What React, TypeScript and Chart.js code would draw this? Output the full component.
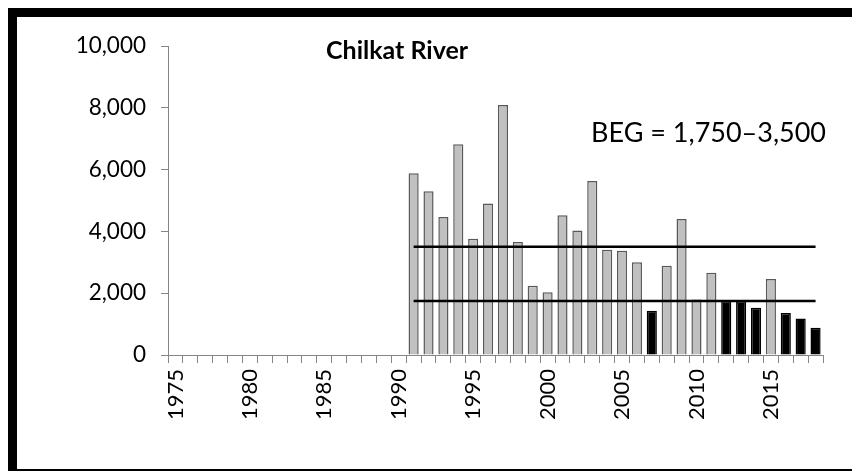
import React, { useEffect, useRef } from "react";
import { Chart, registerables } from "chart.js";

Chart.register(...registerables);

const years: string[] = [
  "1975", "1976", "1977", "1978", "1979", "1980", "1981", "1982", "1983", "1984",
  "1985", "1986", "1987", "1988", "1989", "1990", "1991", "1992", "1993", "1994",
  "1995", "1996", "1997", "1998", "1999", "2000", "2001", "2002", "2003", "2004",
  "2005", "2006", "2007", "2008", "2009", "2010", "2011", "2012", "2013", "2014",
  "2015", "2016", "2017", "2018",
];

const escapement: (number | null)[] = [
  null, null, null, null, null, null, null, null, null, null,
  null, null, null, null, null, null, 5880, 5300, 4470, 6820,
  3760, 4900, 8090, 3660, 2240, 2030, 4520, 4030, 5630, 3410,
  3370, 3000, 1430, 2890, 4400, 1800, 2660, 1750, 1750, 1530,
  2460, 1360, 1180, 880,
];

const belowGoalYears: string[] = ["2007", "2012", "2013", "2014", "2016", "2017", "2018"];

const goalStartYear = "1991";
const begLower = 1750;
const begUpper = 3500;

const yTicks: number[] = [0, 2000, 4000, 6000, 8000, 10000];

const titleText = "Chilkat River";
const begText = "BEG = 1,750\u20133,500";

const FONT = "Lato, 'Open Sans', sans-serif";

export default function App() {
  const ref = useRef<HTMLCanvasElement | null>(null);

  useEffect(() => {
    const canvas = ref.current;
    if (!canvas) return;
    const startIdx = years.indexOf(goalStartYear);
    const upperLine = years.map((_, i) => (i >= startIdx ? begUpper : null));
    const lowerLine = years.map((_, i) => (i >= startIdx ? begLower : null));
    const barColors = years.map((y) => (belowGoalYears.includes(y) ? "#000000" : "#c0c0c0"));
    const barBorders = years.map((y) => (belowGoalYears.includes(y) ? "#000000" : "#595959"));

    const textPlugin = {
      id: "texts",
      afterDraw(chart: any) {
        const { ctx, chartArea } = chart;
        ctx.save();
        ctx.fillStyle = "#000";
        ctx.textBaseline = "alphabetic";
        ctx.textAlign = "left";
        ctx.font = `bold 25px ${FONT}`;
        ctx.fillText(titleText, chartArea.left + 158, chartArea.top + 13);
        ctx.font = `27px ${FONT}`;
        ctx.fillText(begText, chartArea.left + 423, chartArea.top + 96);
        ctx.restore();
      },
    };

    const chart = new Chart(canvas, {
      type: "bar",
      data: {
        labels: years,
        datasets: [
          {
            type: "line",
            data: upperLine,
            borderColor: "#000",
            borderWidth: 2.5,
            pointRadius: 0,
            fill: false,
            spanGaps: false,
            order: 0,
          } as any,
          {
            type: "line",
            data: lowerLine,
            borderColor: "#000",
            borderWidth: 2.5,
            pointRadius: 0,
            fill: false,
            spanGaps: false,
            order: 0,
          } as any,
          {
            type: "bar",
            data: escapement,
            backgroundColor: barColors,
            borderColor: barBorders,
            borderWidth: 1.5,
            borderSkipped: "bottom",
            barPercentage: 0.68,
            categoryPercentage: 1,
            order: 1,
          } as any,
        ],
      },
      options: {
        responsive: false,
        animation: false,
        layout: { padding: { left: 0, right: 37, top: 29, bottom: 0 } },
        plugins: {
          legend: { display: false },
          tooltip: { enabled: false },
          title: { display: false },
        },
        scales: {
          x: {
            type: "category",
            offset: true,
            grid: {
              offset: true,
              drawOnChartArea: false,
              drawTicks: true,
              tickLength: 8,
              color: "#868686",
              lineWidth: 1,
            },
            border: { color: "#868686", width: 1 },
            ticks: {
              autoSkip: false,
              minRotation: 90,
              maxRotation: 90,
              padding: 6,
              color: "#000",
              font: { family: FONT, size: 22 },
              callback: (_v: any, i: number) => (Number(years[i]) % 5 === 0 ? years[i] : ""),
            },
            afterFit: (scale: any) => {
              scale.height = 114;
            },
          },
          y: {
            min: 0,
            max: 10000,
            afterBuildTicks: (scale: any) => {
              scale.ticks = yTicks.map((v) => ({ value: v }));
            },
            grid: {
              drawOnChartArea: false,
              drawTicks: true,
              tickLength: 7,
              color: "#868686",
            },
            border: { color: "#868686", width: 1 },
            ticks: {
              padding: 15,
              color: "#000",
              font: { family: FONT, size: 22.5 },
              callback: (v: any) => Number(v).toLocaleString("en-US"),
            },
            afterFit: (scale: any) => {
              scale.width = 151;
            },
          },
        },
      },
      plugins: [textPlugin],
    });
    return () => chart.destroy();
  }, []);

  return (
    <div
      style={{
        width: 852,
        height: 463,
        boxSizing: "border-box",
        borderTop: "9px solid #000",
        borderLeft: "9px solid #000",
        borderBottom: "2px solid #000",
        background: "#fff",
        overflow: "hidden",
      }}
    >
      <canvas ref={ref} width={843} height={452} style={{ display: "block", width: 843, height: 452 }} />
    </div>
  );
}
